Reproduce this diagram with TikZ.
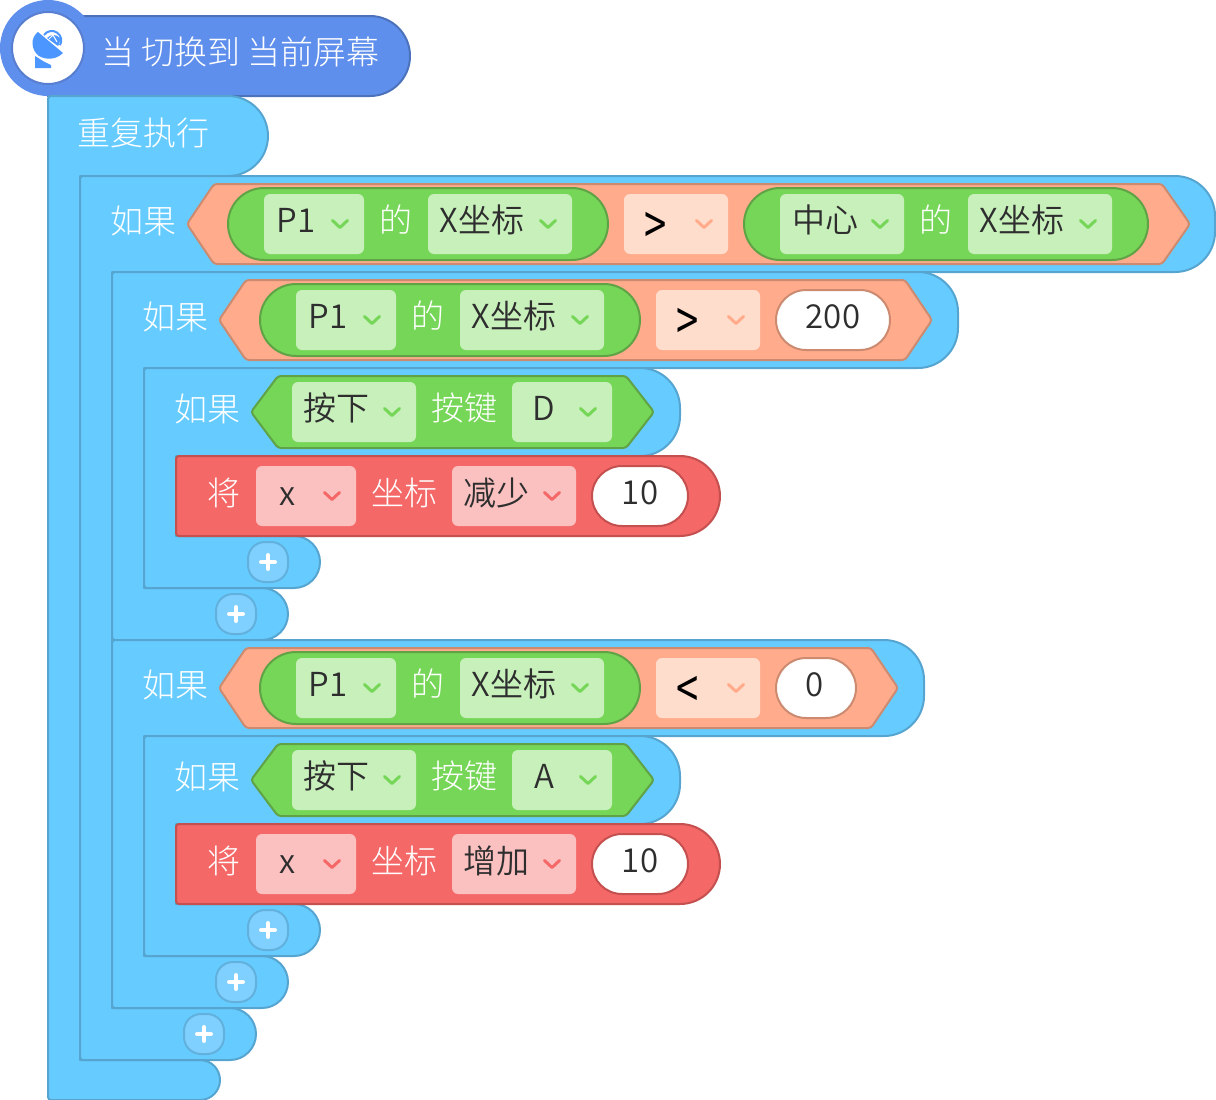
\documentclass[tikz,border=0pt]{standalone}
\usepackage{fontspec}
\setmainfont{Noto Sans CJK SC Light}
\newfontfamily\darkfont{Noto Sans CJK SC DemiLight}
\newfontfamily\boldcmp{Noto Sans CJK SC}
\definecolor{blk}{HTML}{66CCFF}\definecolor{blkS}{HTML}{55A5D0}
\definecolor{grn}{HTML}{76D657}\definecolor{grnS}{HTML}{5FA346}\definecolor{grnD}{HTML}{C8F0BB}
\definecolor{red1}{HTML}{F56868}\definecolor{redS}{HTML}{C4504F}\definecolor{redD}{HTML}{FBC1C1}
\definecolor{org}{HTML}{FFAB8C}\definecolor{orgS}{HTML}{CC8B70}\definecolor{orgD}{HTML}{FFDDCC}
\definecolor{hat}{HTML}{5F8FEC}\definecolor{hatS}{HTML}{4B72BB}\definecolor{ico}{HTML}{4C97FF}
\definecolor{ink}{HTML}{2E2E2E}\definecolor{plusF}{HTML}{80D0FF}\definecolor{plusS}{HTML}{62B0DC}
\definecolor{hatR}{HTML}{587ED0}
\tikzset{
  lblbase/.style={inner sep=0pt,outer sep=0pt,anchor=base,font=\fontsize{33}{33}\selectfont},
  wt/.style={lblbase,text=white},
  dk/.style={lblbase,text=ink,font=\darkfont\fontsize{33}{33}\selectfont},
  cmpsign/.style={inner sep=0pt,outer sep=0pt,anchor=base,text=black,font=\boldcmp\fontsize{40}{40}\selectfont},
  blockshape/.style={fill=blk,draw=blkS,line width=2pt,line join=round},
  grnshape/.style={fill=grn,draw=grnS,line width=2pt,line join=round},
  redshape/.style={fill=red1,draw=redS,line width=2pt,line join=round},
  orgshape/.style={fill=org,draw=orgS,line width=2pt,line join=round,rounded corners=3pt},
  hatshape/.style={fill=hat,draw=hatS,line width=2pt},
  chev/.style={line width=3pt,line cap=round,line join=round},
}
% C-shaped block: x, top, header bottom, header right, inner x, foot top, foot bottom, foot right
\newcommand{\cblk}[8]{%
  \pgfmathsetmacro{\rr}{(#7-#6)/2}%
  \pgfmathsetmacro{\rh}{min(40,(#3-#2)/2)}%
  \draw[blockshape] (#1+3,#2) -- (#4-\rh,#2) arc[start angle=-90,end angle=0,radius=\rh] -- (#4,#3-\rh) arc[start angle=0,end angle=90,radius=\rh]
    -- (#5,#3) -- (#5,#6) -- (#8-\rr,#6) arc[start angle=-90,end angle=90,radius=\rr]
    -- (#1+3,#7) arc[start angle=90,end angle=180,radius=3] -- (#1,#2+3) arc[start angle=180,end angle=270,radius=3] -- cycle;}
% rounded rectangle: x0,y0,x1,y1,radius,style
\newcommand{\rbox}[6]{\path[#6,rounded corners=#5pt] (#1,#2) rectangle (#3,#4);}
\newcommand{\chv}[3]{\draw[chev,draw=#3] (#1-7.5,#2-3.5) -- (#1,#2+3.5) -- (#1+7.5,#2-3.5);}
% plus button at x,y
\newcommand{\plusb}[2]{%
  \draw[fill=plusF,draw=plusS,line width=2pt,rounded corners=17pt] (#1-20,#2-20) rectangle (#1+20,#2+20);
  \draw[white,line width=4pt,line cap=round] (#1-7,#2) -- (#1+7,#2) (#1,#2-7) -- (#1,#2+7);}
% hexagon: x tip left, x corner left, x corner right, x tip right, top, bottom, style
\newcommand{\hexa}[7]{\draw[#7] (#1,{(#5+#6)/2}) -- (#2,#5) -- (#3,#5) -- (#4,{(#5+#6)/2}) -- (#3,#6) -- (#2,#6) -- cycle;}
% condition: green pill "P1 的 X坐标" with left x, top y of pill
\newcommand{\poscond}[2]{%
  \rbox{#1}{#2}{#1+380}{#2+72}{36}{grnshape}
  \rbox{#1+36}{#2+6}{#1+136}{#2+66}{6}{fill=grnD}
  \node[dk] (pa) at (#1+68,#2+44) {P1};
  \chv{#1+112}{#2+36}{grn}
  \node[wt] (pb) at (#1+168,#2+44) {的};
  \rbox{#1+200}{#2+6}{#1+344}{#2+66}{6}{fill=grnD}
  \node[dk] (pc) at (#1+254,#2+44) {X坐标};
  \chv{#1+320}{#2+36}{grn}}
\newcommand{\cmpbox}[3]{%
  \rbox{#1}{#2}{#1+104}{#2+60}{6}{fill=orgD}
  \node[cmpsign] (cs) at (#1+32,#2+50) {\scalebox{1}[1.35]{#3}};
  \chv{#1+80}{#2+30}{org}}
% key-press if row and the red action below
\newcommand{\keyrow}[3]{%
  \hexa{251}{278}{626}{654}{376}{448}{grnshape,rounded corners=3pt}
  \node[wt] (kif) at (207,421) {如果};
  \rbox{292}{382}{416}{442}{6}{fill=grnD}
  \node[dk] (ka) at (336,420) {按下};
  \chv{392}{412}{grn}
  \node[wt] (kb) at (464,420) {按键};
  \rbox{512}{382}{612}{442}{6}{fill=grnD}
  \node[dk] (kc) at (544,420) {#1};
  \chv{588}{412}{grn}
  \draw[redshape] (179,456) -- (680,456) arc[start angle=-90,end angle=90,radius=40] -- (179,536) arc[start angle=90,end angle=180,radius=3] -- (176,459) arc[start angle=180,end angle=270,radius=3] -- cycle;
  \node[wt] (ra) at (224,505) {将};
  \rbox{256}{466}{356}{526}{6}{fill=redD}
  \node[dk] (rb) at (288,505) {x};
  \chv{332}{496}{red1}
  \node[wt] (rc) at (404,505) {坐标};
  \rbox{452}{466}{576}{526}{6}{fill=redD}
  \node[dk] (rd) at (496,505) {#2};
  \chv{552}{496}{red1}
  \rbox{592}{466}{688}{526}{30}{fill=white,draw=redS,line width=2pt}
  \node[dk] (re) at (640,504) {#3};}
\begin{document}
\begin{tikzpicture}[x=1pt,y=-1pt]
\useasboundingbox (0,0) rectangle (1216,1100);
% hat (under the loop block)
\draw[hatshape] (48,16) -- (370,16) arc[start angle=-90,end angle=90,radius=40] -- (48,96) -- cycle;
\fill[hat] (48,48) circle[radius=48];
% blocks, back to front
\cblk{48}{96}{176}{268}{80}{1060}{1100}{220}
\cblk{80}{176}{272}{1215}{112}{1008}{1060}{256}
\cblk{112}{272}{368}{958}{144}{588}{640}{288}
\cblk{144}{368}{456}{680}{176}{536}{588}{320}
\cblk{112}{640}{736}{924}{144}{956}{1008}{288}
\cblk{144}{736}{824}{680}{176}{904}{956}{320}
\plusb{204}{1034}
\plusb{236}{614}
\plusb{268}{562}
\plusb{236}{982}
\plusb{268}{930}
\draw[fill=white,draw=hatR,line width=2pt] (48,48) circle[radius=36];
% icon
\fill[ico] (38,32) .. controls (30,38) and (31,50) .. (39,56) .. controls (46,60) and (56,60) .. (63,53) -- cycle;
\fill[ico] (35,56) -- (35,68) -- (51,68) -- (51,65) -- (43,61) -- cycle;
\draw[ico,line width=2pt] (44,35) arc[start angle=-145,end angle=30,radius=9.5];
\fill[ico] (47,38) .. controls (51,34) and (56,34) .. (60,38) .. controls (60,43) and (59,45) .. (58,46) -- (47,38) -- cycle;
\draw[white,line width=1pt] (49,39) -- (53,35) -- (57,42);
\node[wt] (hattext) at (240.5,64) {\spaceskip=7pt 当 切换到 当前屏幕};
\node[wt] (looptext) at (143,145) {重复执行};
% row 1
\node[wt] (if1) at (143,233) {如果};
\hexa{187}{214}{1162}{1190}{184}{264}{orgshape}
\begin{scope}[name prefix=r1-]
\poscond{228}{188}
\cmpbox{624}{194}{>}
\end{scope}
\rbox{744}{188}{1148}{260}{36}{grnshape}
\rbox{780}{194}{904}{254}{6}{fill=grnD}
\node[dk] (c1) at (825,232) {中心};
\chv{880}{224}{grn}
\node[wt] (c2) at (936,232) {的};
\rbox{968}{194}{1112}{254}{6}{fill=grnD}
\node[dk] (c3) at (1022,232) {X坐标};
\chv{1088}{224}{grn}
% row 2
\node[wt] (if2) at (175,329) {如果};
\hexa{219}{246}{905}{932}{280}{360}{orgshape}
\begin{scope}[name prefix=r2-]
\poscond{260}{284}
\cmpbox{656}{290}{>}
\end{scope}
\rbox{776}{290}{890}{350}{30}{fill=white,draw=orgS,line width=2pt}
\node[dk] (v200) at (833,328) {200};
\begin{scope}[name prefix=k1-]
\keyrow{D}{减少}{10}
\end{scope}
% row 4
\node[wt] (if4) at (175,697) {如果};
\hexa{219}{246}{871}{898}{648}{728}{orgshape}
\begin{scope}[name prefix=r4-]
\poscond{260}{652}
\cmpbox{656}{658}{<}
\end{scope}
\rbox{776}{658}{856}{718}{30}{fill=white,draw=orgS,line width=2pt}
\node[dk] (v0) at (815,696) {0};
\begin{scope}[yshift=-368pt,name prefix=k2-]
\keyrow{A}{增加}{10}
\end{scope}
\end{tikzpicture}
\end{document}
